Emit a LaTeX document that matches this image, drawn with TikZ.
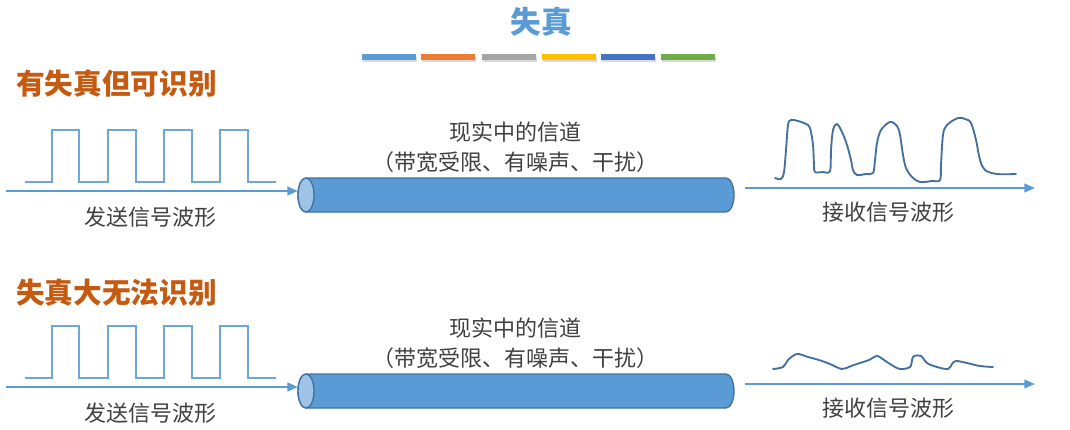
\documentclass[tikz,border=0pt]{standalone}
\usepackage{fontspec}
\setmainfont{Noto Sans CJK SC}
\usetikzlibrary{arrows.meta}
\definecolor{sigblue}{HTML}{5B9BD5}
\definecolor{sqblue}{HTML}{6FA6DA}
\definecolor{cyledge}{HTML}{41719C}
\definecolor{cylface}{HTML}{9DC3E6}
\definecolor{wave}{HTML}{44709E}
\definecolor{hdr}{HTML}{C55A11}
\definecolor{txt}{HTML}{404040}
\definecolor{barA}{HTML}{5B9BD5}
\definecolor{barB}{HTML}{ED7D31}
\definecolor{barC}{HTML}{A5A5A5}
\definecolor{barD}{HTML}{FFC000}
\definecolor{barE}{HTML}{4472C4}
\definecolor{barF}{HTML}{70AD47}
\tikzset{
  lbl/.style={text=txt, font=\fontsize{16.5}{19}\selectfont, inner sep=0pt},
  hdrtext/.style={text=hdr, font=\fontsize{21.5}{24}\selectfont\bfseries, inner sep=0pt, anchor=west},
  flow/.style={sigblue, line width=1.6pt, -{Triangle[length=8pt,width=6.5pt]}},
  square/.style={sqblue, line width=1.1pt, line join=miter},
  rxwave/.style={wave, line width=1.4pt, line cap=round, line join=round},
  cylbody/.style={fill=sigblue, draw=cyledge, line width=1pt},
  cylend/.style={fill=cylface, draw=cyledge, line width=1pt},
  bar/.style={minimum width=40.5pt, minimum height=4.5pt, inner sep=0pt, draw=none},
}
\begin{document}
\begin{tikzpicture}[x=0.75pt,y=-0.75pt]
\useasboundingbox (0,0) rectangle (1070,429);
% title
\node[text=sigblue, font=\fontsize{23}{26}\selectfont\bfseries, inner sep=0pt] (title) at (541,22) {失真};
% colour bars
\foreach \c/\x [count=\i] in {barA/389,barB/448,barC/509,barD/569,barE/628,barF/688}{
  \fill[black!15] (\x-26,57) rectangle (\x+28,61.5);
  \node[bar, fill=\c] (bar\i) at (\x,57) {};
}
% headers
\node[hdrtext] (heada) at (16,84) {有失真但可识别};
\node[hdrtext] (headb) at (16,293) {失真大无法识别};
% ---------- rows ----------
\foreach \dy/\r in {0/a, 196/b}{
  \begin{scope}[yshift=-\dy*0.75pt]
  % square wave
  \draw[square] (25,182) -- (52,182) -- (52,130) -- (79,130) -- (79,182) -- (108,182) -- (108,130) -- (136,130) -- (136,182) -- (164,182) -- (164,130) -- (192,130) -- (192,182) -- (220,182) -- (220,130) -- (248,130) -- (248,182) -- (276,182);
  % cylinder
  \coordinate (cw\r) at (298,195);
  \coordinate (ce\r) at (735,193);
  \path[cylbody] (306,178) -- (726,178) arc[start angle=-90, end angle=90, x radius=8, y radius=17] -- (306,212) arc[start angle=90, end angle=270, x radius=8, y radius=17] -- cycle;
  \path[cylend] (306,195) ellipse[x radius=8, y radius=17];
  \node[lbl] (chan\r) at (515,132) {现实中的信道};
  \node[lbl] (lim\r) at (515,162) {（带宽受限、有噪声、干扰）};
  \coordinate (sin\r) at (6,191);
  \draw[flow] (sin\r) -- (cw\r |- sin\r);
  \node[lbl] (send\r) at (150,217) {发送信号波形};
  \coordinate (rout\r) at (1035,188);
  \draw[flow] (745,188) -- (rout\r);
  \node[lbl] (recv\r) at (888,212) {接收信号波形};
  \end{scope}
}
% received waves
\draw[rxwave] plot[smooth, tension=0.55] coordinates {
 (775,178) (781,179) (784,172) (786,150) (788,125) (791,120) (798,121) (806,124) (810,128) (813,145) (814,165) (815,172) (823,172) (830,171) (831,150) (833,130) (837,124) (842,132) (847,145) (851,160) (853,170) (857,175) (866,174) (873,173) (875,160) (877,143) (881,130) (890,122) (897,126) (900,135) (903,155) (906,168) (912,177) (920,182) (932,181) (940,180) (941,165) (943,135) (947,125) (958,118) (965,119) (971,123) (976,140) (980,160) (985,170) (997,174) (1016,174)};
\draw[rxwave] plot[smooth, tension=0.55] coordinates {
 (773,369) (783,367) (788,360) (797,354) (808,357) (819,360) (830,364) (842,369) (851,366) (860,363) (869,360) (877,356) (884,360) (890,364) (900,369) (910,367) (912,360) (914,356) (921,356) (927,363) (937,367) (948,369) (952,364) (956,361) (967,363) (980,366) (993,367)};
\end{tikzpicture}
\end{document}
